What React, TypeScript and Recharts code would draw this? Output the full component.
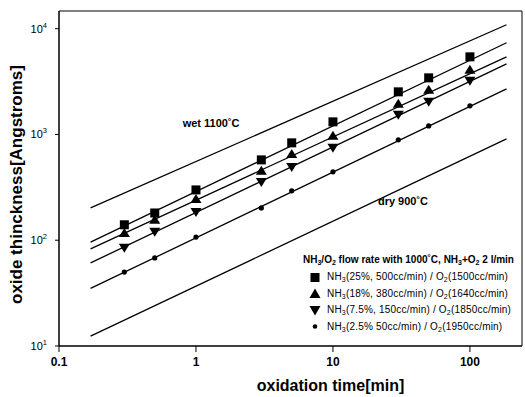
import React from "react";
import {
  ComposedChart,
  Line,
  Scatter,
  XAxis,
  YAxis,
  ReferenceArea,
  ReferenceDot,
} from "recharts";

// measured points
const times = [0.3, 0.5, 1, 3, 5, 10, 30, 50, 100];
const nh3_25 = [140, 181, 299, 575, 833, 1316, 2530, 3430, 5420];
const nh3_18 = [117, 156, 246, 453, 655, 970, 1947, 2642, 4085];
const nh3_75 = [85, 120, 185, 356, 493, 747, 1532, 2034, 3214];
const nh3_2_5 = [50, 68, 107, 202, 293, 443, 889, 1205, 1866];

// straight fit lines (end points)
const fitTimes = [0.17, 185];
const wetFit = [202, 10890];
const fit25 = [96, 7360];
const fit18 = [83, 5420];
const fit75 = [61, 4656];
const fit2_5 = [35, 2700];
const dryFit = [12.4, 908];

const xTicks = [0.1, 1, 10, 100];
const yTicks = [10, 100, 1000, 10000];

const FONT = "'Liberation Sans', Arial, sans-serif";

const toPts = (xs: number[], ys: number[]) => xs.map((x, i) => ({ x, y: ys[i] }));

const SquareDot = (p: any) => (
  <rect x={p.cx - 4.5} y={p.cy - 4.5} width={9} height={9} fill="#000" />
);
const UpTri = (p: any) => (
  <path d={`M${p.cx},${p.cy - 5} L${p.cx + 5.5},${p.cy + 4} L${p.cx - 5.5},${p.cy + 4} Z`} fill="#000" />
);
const DownTri = (p: any) => (
  <path d={`M${p.cx},${p.cy + 5} L${p.cx + 5.5},${p.cy - 4} L${p.cx - 5.5},${p.cy - 4} Z`} fill="#000" />
);
const SmallDot = (p: any) => <circle cx={p.cx} cy={p.cy} r={2.6} fill="#000" />;

const series = [
  { name: "NH3(25%, 500cc/min) / O2(1500cc/min)", a: "(25%, 500cc/min) / O", b: "(1500cc/min)", data: nh3_25, shape: SquareDot, mk: "sq" },
  { name: "NH3(18%, 380cc/min) / O2(1640cc/min)", a: "(18%, 380cc/min) / O", b: "(1640cc/min)", data: nh3_18, shape: UpTri, mk: "up" },
  { name: "NH3(7.5%, 150cc/min) / O2(1850cc/min)", a: "(7.5%, 150cc/min) / O", b: "(1850cc/min)", data: nh3_75, shape: DownTri, mk: "down" },
  { name: "NH3(2.5% 50cc/min) / O2(1950cc/min)", a: "(2.5% 50cc/min) / O", b: "(1950cc/min)", data: nh3_2_5, shape: SmallDot, mk: "dot" },
];

const fits = [wetFit, fit25, fit18, fit75, fit2_5, dryFit];

function LegendMarker({ mk }: { mk: string }) {
  return (
    <svg width={12} height={11} style={{ marginRight: 6, flexShrink: 0 }}>
      {mk === "sq" && <rect x={1.5} y={1} width={9} height={9} fill="#000" />}
      {mk === "up" && <path d="M6,0.5 L11.5,10 L0.5,10 Z" fill="#000" />}
      {mk === "down" && <path d="M6,10.5 L11.5,1 L0.5,1 Z" fill="#000" />}
      {mk === "dot" && <circle cx={6} cy={5.5} r={2.3} fill="#000" />}
    </svg>
  );
}

function LegendBox() {
  const sub = { fontSize: 7, position: "relative", top: 2 } as React.CSSProperties;
  const row = { height: 16.5, display: "flex", alignItems: "center", whiteSpace: "nowrap" } as React.CSSProperties;
  return (
    <div
      style={{
        position: "absolute",
        left: 303,
        top: 250,
        fontFamily: FONT,
        fontSize: 10,
        color: "#000",
        lineHeight: 1,
      }}
    >
      <div style={{ ...row, height: 19, fontWeight: 700 }}>
        <span>
          NH<span style={sub}>3</span>/O<span style={sub}>2</span> flow rate with 1000˚C, NH
          <span style={sub}>3</span>+O<span style={sub}>2</span> 2 l/min
        </span>
      </div>
      {series.map((s) => (
        <div key={s.name} style={{ ...row, paddingLeft: 6 }}>
          <LegendMarker mk={s.mk} />
          <span style={{ letterSpacing: 0.2 }}>
            NH<span style={sub}>3</span>
            {s.a}
            <span style={sub}>2</span>
            {s.b}
          </span>
        </div>
      ))}
    </div>
  );
}

function YTick(props: any) {
  const { x, y, payload } = props;
  const exp = Math.round(Math.log10(payload.value));
  return (
    <text x={x - 6} y={y + 4} textAnchor="end" fontFamily={FONT} fontSize={11} fill="#000">
      <tspan>10</tspan>
      <tspan dy={-5} fontSize={7.5}>{exp}</tspan>
    </text>
  );
}

function XTick(props: any) {
  const { x, y, payload } = props;
  return (
    <text x={x} y={y + 12} textAnchor="middle" fontFamily={FONT} fontSize={12} fontWeight={700} fill="#000">
      {String(payload.value)}
    </text>
  );
}

export default function App() {
  return (
    <div style={{ position: "absolute", left: 0, top: 0, width: 525, height: 397, background: "#fff" }}>
      <ComposedChart width={525} height={397} margin={{ top: 11, right: 3, bottom: 0, left: 0 }}>
        <XAxis
          dataKey="x"
          type="number"
          scale="log"
          domain={[0.1, 240]}
          ticks={xTicks}
          allowDataOverflow
          height={51}
          stroke="#000"
          tickSize={6}
          tick={<XTick />}
          label={{
            content: (p: any) => {
              const vb = p.viewBox;
              return (
                <text x={vb.x + vb.width / 2 + 40} y={vb.y + 45} textAnchor="middle" fontFamily={FONT} fontSize={16} fontWeight={900} fill="#000">
                  oxidation time[min]
                </text>
              );
            },
          }}
        />
        <YAxis
          dataKey="y"
          type="number"
          scale="log"
          domain={[10, 14700]}
          ticks={yTicks}
          allowDataOverflow
          width={59}
          stroke="#000"
          tickSize={4}
          tick={<YTick />}
          label={{
            content: (p: any) => {
              const vb = p.viewBox;
              const cx = 16;
              const cy = vb.y + vb.height / 2 + 6;
              return (
                <text x={cx} y={cy} textAnchor="middle" dominantBaseline="central" transform={`rotate(-90 ${cx} ${cy})`} fontFamily={FONT} fontSize={17} fontWeight={900} fill="#000">
                  oxide thinckness[Angstroms]
                </text>
              );
            },
          }}
        />
        <ReferenceArea x1={0.1} x2={240} y1={10} y2={14700} fill="none" stroke="#000" strokeWidth={1} ifOverflow="visible" />
        {fits.map((f, i) => (
          <Line
            key={"fit" + i}
            data={toPts(fitTimes, f)}
            dataKey="y"
            type="linear"
            stroke="#000"
            strokeWidth={1.3}
            dot={false}
            activeDot={false}
            legendType="none"
            isAnimationActive={false}
          />
        ))}
        {series.map((s) => (
          <Scatter
            key={s.name}
            name={s.name}
            data={toPts(times, s.data)}
            dataKey="y"
            shape={s.shape}
            fill="#000"
            isAnimationActive={false}
          />
        ))}
        <ReferenceDot
          x={0.8}
          y={1180}
          r={0}
          ifOverflow="visible"
          label={(p: any) => (
            <text x={p.viewBox.x} y={p.viewBox.y} fontFamily={FONT} fontSize={11} fontWeight={900} fill="#000">
              wet 1100˚C
            </text>
          )}
        />
        <ReferenceDot
          x={21.3}
          y={216}
          r={0}
          ifOverflow="visible"
          label={(p: any) => (
            <text x={p.viewBox.x} y={p.viewBox.y} fontFamily={FONT} fontSize={11} fontWeight={900} fill="#000">
              dry 900˚C
            </text>
          )}
        />
      </ComposedChart>
      <LegendBox />
    </div>
  );
}
